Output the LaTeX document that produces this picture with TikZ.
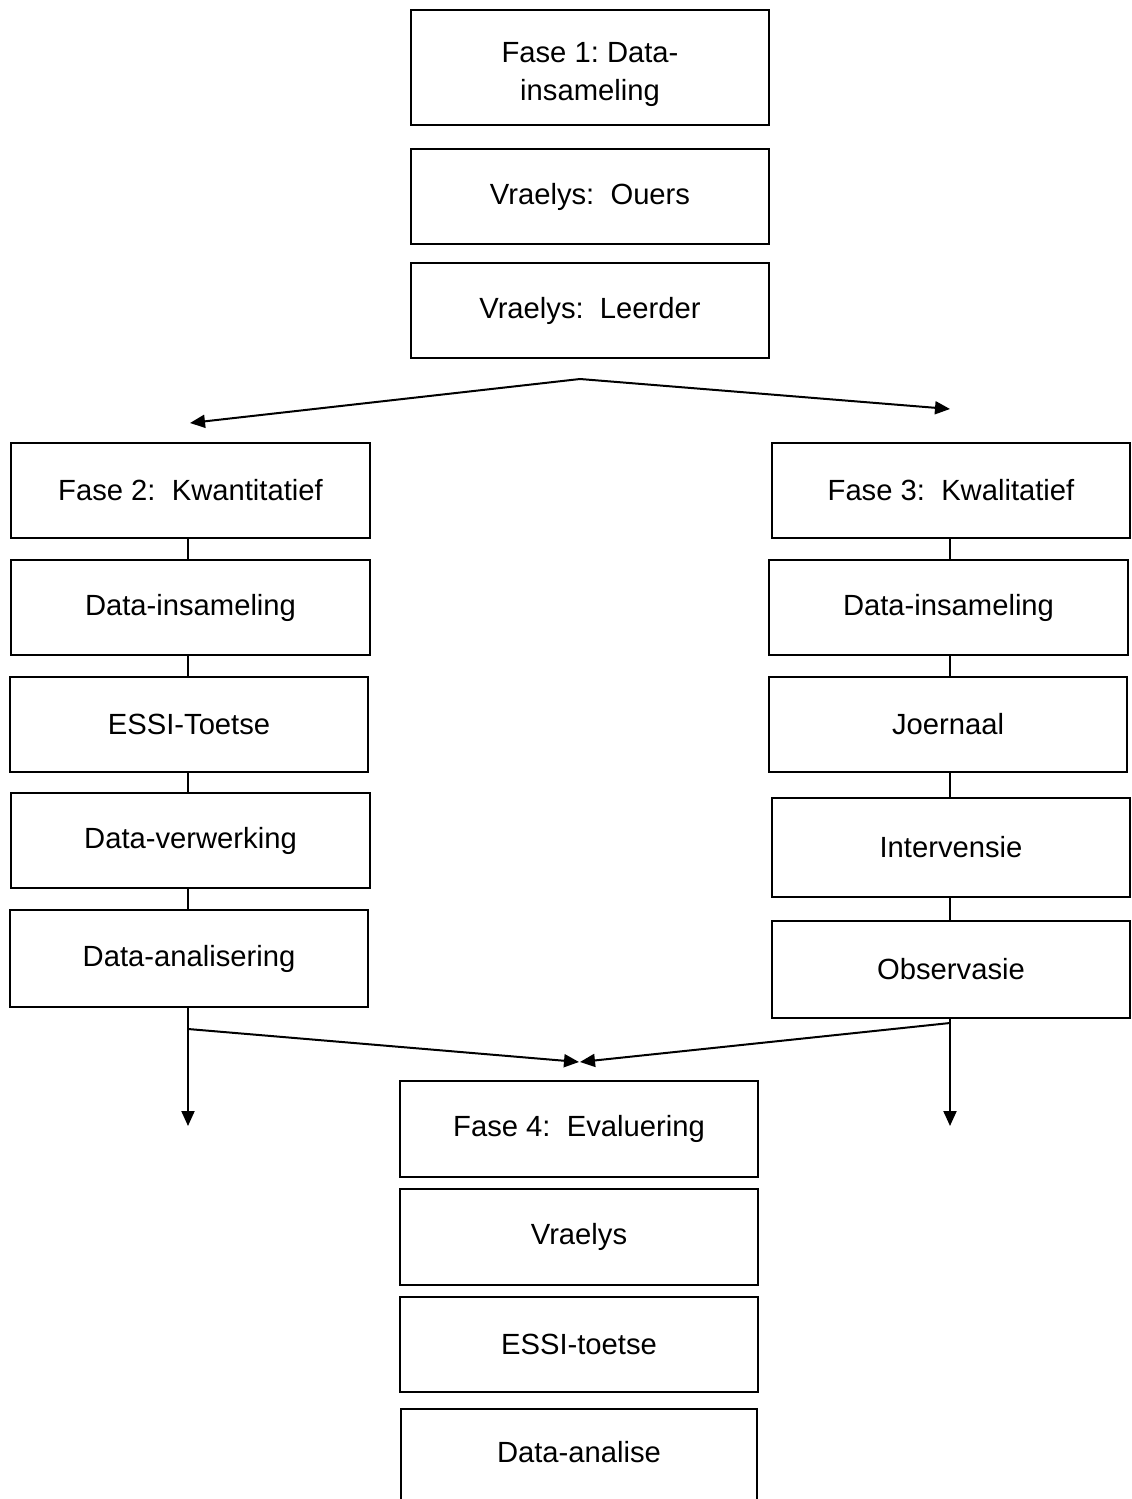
\documentclass[tikz,border=0pt]{standalone}
\usepackage{fontspec}
\setmainfont{Liberation Sans}
\usetikzlibrary{arrows.meta}
\begin{document}
\frenchspacing
\begin{tikzpicture}[x=0.5pt,y=-0.5pt,
  txt/.style={align=center,inner sep=0pt,font=\fontsize{14.6}{19}\selectfont},
  box/.style={draw,line width=1pt,inner sep=0pt,align=center,font=\fontsize{14.6}{19}\selectfont},
  conn/.style={line width=1pt},
  arr/.style={line width=1pt,-{Triangle[length=7.5pt,width=6.5pt]}}]
\useasboundingbox (0,0) rectangle (1131,1499);
% helper macro for boxes: name, x1, y1, x2, y2, text
\newcommand{\mybox}[6]{%
  \node[box,minimum width={(#4-#2)*0.5pt},minimum height={(#5-#3)*0.5pt}] (#1) at ({(#2+#4)/2},{(#3+#5)/2}) {#6};}
% top column
\mybox{T1}{411}{10}{769}{125}{}
\node[txt] (T1t) at (590,74) {Fase 1: Data-\\insameling};
\mybox{T2}{411}{149}{769}{244}{Vraelys:\ \ Ouers}
\mybox{T3}{411}{263}{769}{358}{Vraelys:\ \ Leerder}
% left column
\mybox{L1}{11}{443}{370}{538}{Fase 2:\ \ Kwantitatief}
\mybox{L2}{11}{560}{370}{655}{Data-insameling}
\mybox{L3}{10}{677}{368}{772}{ESSI-Toetse}
\mybox{L4}{11}{793}{370}{888}{Data-verwerking}
\mybox{L5}{10}{910}{368}{1007}{Data-analisering}
% right column
\mybox{R1}{772}{443}{1130}{538}{Fase 3:\ \ Kwalitatief}
\mybox{R2}{769}{560}{1128}{655}{Data-insameling}
\mybox{R3}{769}{677}{1127}{772}{Joernaal}
\mybox{R4}{772}{798}{1130}{897}{Intervensie}
\mybox{R5}{772}{921}{1130}{1018}{Observasie}
% bottom column
\mybox{B1}{400}{1081}{758}{1177}{Fase 4:\ \ Evaluering}
\mybox{B2}{400}{1189}{758}{1285}{Vraelys}
\mybox{B3}{400}{1297}{758}{1392}{ESSI-toetse}
\node[draw,line width=1pt,inner sep=0pt,minimum width=178pt,minimum height=50pt,anchor=north west] (B4) at (400,1408) {};
\node[txt] (B4t) at (579,1452) {Data-analise};
% column axes
\coordinate (lc) at (188,0);
\coordinate (rc) at (950,0);
% split arrows
\coordinate (apex) at (580,379);
\coordinate (tipL) at (190,423);
\coordinate (tipR) at (950,409);
\draw[arr] (apex) -- (tipL);
\draw[arr] (apex) -- (tipR);
% left connectors
\draw[conn] (L1.south -| lc) -- (L2.north -| lc);
\draw[conn] (L2.south -| lc) -- (L3.north -| lc);
\draw[conn] (L3.south -| lc) -- (L4.north -| lc);
\draw[conn] (L4.south -| lc) -- (L5.north -| lc);
% right connectors
\draw[conn] (R1.south -| rc) -- (R2.north -| rc);
\draw[conn] (R2.south -| rc) -- (R3.north -| rc);
\draw[conn] (R3.south -| rc) -- (R4.north -| rc);
\draw[conn] (R4.south -| rc) -- (R5.north -| rc);
% down arrows
\coordinate (downL) at (188,1126);
\coordinate (downR) at (950,1126);
\draw[arr] (L5.south -| lc) -- (downL);
\draw[arr] (R5.south -| rc) -- (downR);
% merge arrows
\coordinate (jl) at (188,1029);
\coordinate (jr) at (950,1023);
\coordinate (mL) at (579,1062);
\coordinate (mR) at (580,1062);
\draw[arr] (jl) -- (mL);
\draw[arr] (jr) -- (mR);
\end{tikzpicture}
\end{document}
